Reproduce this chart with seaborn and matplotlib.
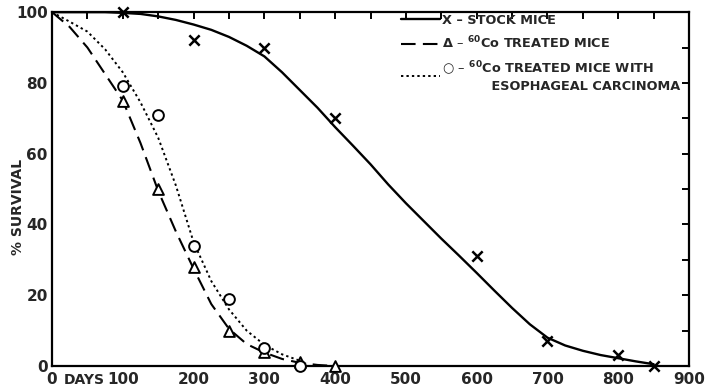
import matplotlib
matplotlib.use("Agg")
import matplotlib.pyplot as plt
from matplotlib.ticker import MultipleLocator, FixedLocator, FixedFormatter
from matplotlib.lines import Line2D
import seaborn as sns
import pandas as pd

# ---- data ----
stock_days = [100, 200, 300, 400, 600, 700, 800, 850]
stock_pct = [100, 92, 90, 70, 31, 7, 3, 0]

treated_days = [100, 150, 200, 250, 300, 350, 400]
treated_pct = [75, 50, 28, 10, 4, 1, 0]

carc_days = [100, 150, 200, 250, 300, 350]
carc_pct = [79, 71, 34, 19, 5, 0]

# fitted curves as drawn on the chart
stock_curve_days = [0, 25, 50, 75, 100, 125, 150, 175, 200, 225, 250, 275, 300, 325, 350,
                    375, 400, 425, 450, 475, 500, 525, 550, 575, 600, 625, 650, 675, 700,
                    725, 750, 775, 800, 825, 850]
stock_curve_pct = [100, 100, 100, 100, 99.8, 99.5, 98.8, 97.8, 96.5, 95, 93, 90.5, 87.5, 83,
                   78, 73, 67.5, 62.3, 57, 51.3, 46, 41, 36, 31.2, 26.3, 21.3, 16.4, 11.8,
                   8.0, 5.8, 4.3, 3.1, 2.2, 1.3, 0.5]

treated_curve_days = [0, 25, 50, 75, 100, 125, 150, 175, 200, 225, 250, 275, 300, 325, 350, 375, 400]
treated_curve_pct = [100, 95.8, 90, 82.5, 75, 63, 49.5, 38, 27.5, 17.5, 10.5, 6.2, 3.8, 2.0, 0.9, 0.3, 0]

carc_curve_days = [0, 25, 50, 75, 100, 125, 150, 175, 200, 225, 250, 275, 300, 325, 350, 360]
carc_curve_pct = [100, 97.3, 94.5, 89.5, 83, 74.5, 64.5, 51, 35, 24, 16, 10, 6, 3.3, 1.5, 0.8]

x_tick_labels = ["0", "100", "200", "300", "400", "500", "600", "700", "800", "900"]
y_tick_labels = ["0", "20", "40", "60", "80", "100"]

legend_labels = ["X – STOCK MICE",
                 "Δ – $^{60}$Co TREATED MICE",
                 "○ – $^{60}$Co TREATED MICE WITH\n           ESOPHAGEAL CARCINOMA"]

# ---- style ----
sns.set_style("white")
plt.rcParams['font.family'] = ['Liberation Sans Narrow', 'DejaVu Sans']
plt.rcParams['font.weight'] = 'bold'
plt.rcParams['mathtext.fontset'] = 'dejavusans'
plt.rcParams['mathtext.default'] = 'bf'

fig = plt.figure(figsize=(7.06, 3.92), dpi=100)
ax = fig.add_axes([0.0737, 0.0663, 0.9023, 0.9027])

k = "black"
sns.lineplot(x=stock_curve_days, y=stock_curve_pct, ax=ax, color=k, lw=1.7,
             linestyle="-", sort=False)
sns.lineplot(x=treated_curve_days, y=treated_curve_pct, ax=ax, color=k, lw=1.5,
             linestyle=(0, (7, 3.5)), sort=False)
sns.lineplot(x=carc_curve_days, y=carc_curve_pct, ax=ax, color=k, lw=1.4,
             linestyle=(0, (1.2, 1.6)), sort=False)

sns.scatterplot(x=stock_days, y=stock_pct, ax=ax, marker="x", s=55, color=k,
                linewidth=1.8, zorder=5, clip_on=False)
sns.scatterplot(x=treated_days, y=treated_pct, ax=ax, marker="^", s=60,
                facecolor="white", edgecolor=k, linewidth=1.4, zorder=5, clip_on=False)
sns.scatterplot(x=carc_days, y=carc_pct, ax=ax, marker="o", s=60,
                facecolor="white", edgecolor=k, linewidth=1.4, zorder=5, clip_on=False)

ax.set_xlim(0, 900)
ax.set_ylim(0, 100)

ax.xaxis.set_major_locator(FixedLocator(list(range(0, 901, 100))))
ax.xaxis.set_major_formatter(FixedFormatter(x_tick_labels))
ax.xaxis.set_minor_locator(MultipleLocator(50))
ax.yaxis.set_major_locator(FixedLocator(list(range(0, 101, 20))))
ax.yaxis.set_major_formatter(FixedFormatter(y_tick_labels))
ax.yaxis.set_minor_locator(MultipleLocator(10))

ax.tick_params(which="both", direction="in", length=5, width=1.4, color=k,
               top=True, right=True, labelsize=11, pad=3)
ax.tick_params(axis="x", which="major", pad=4)
for lab in ax.get_xticklabels() + ax.get_yticklabels():
    lab.set_fontweight("bold")

for sp in ax.spines.values():
    sp.set_linewidth(1.6)
    sp.set_color(k)

ax.text(45, -2.0, "DAYS", ha="center", va="top", fontsize=10, fontweight="bold",
        transform=ax.transData)
ax.set_xlabel("")
ax.set_ylabel("% SURVIVAL", fontsize=10, fontweight="bold")
ax.yaxis.set_label_coords(-0.042, 0.45)

handles = [Line2D([], [], color=k, lw=1.7, linestyle="-"),
           Line2D([], [], color=k, lw=1.5, linestyle=(0, (7, 3.5))),
           Line2D([], [], color=k, lw=1.4, linestyle=(0, (1.2, 1.6)))]
leg = ax.legend(handles, legend_labels, loc="upper left", bbox_to_anchor=(0.54, 1.01),
                frameon=False, fontsize=9.3, handlelength=3.0, handletextpad=0.15,
                labelspacing=0.62, borderaxespad=0)
for t in leg.get_texts():
    t.set_fontweight("bold")

fig.savefig("out.png", dpi=100)
